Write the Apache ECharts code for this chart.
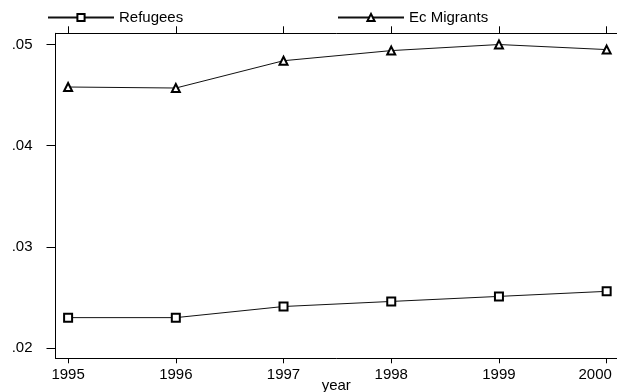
<!DOCTYPE html>
<html>
<head>
<meta charset="utf-8">
<script src="https://cdn.jsdelivr.net/npm/echarts@6/dist/echarts.min.js"></script>
<style>
  html, body { margin: 0; padding: 0; background: #fff; }
  #chart { width: 617px; height: 392px; }
</style>
</head>
<body>
<div id="chart"></div>
<script>
// Share of population by group, 1995–2000
const years = [1995, 1996, 1997, 1998, 1999, 2000];
const refugees = [0.0230, 0.0230, 0.0241, 0.0246, 0.0251, 0.0256];
const ecMigrants = [0.0458, 0.0457, 0.0484, 0.0494, 0.0500, 0.0495];
const yTicks = [0.02, 0.03, 0.04, 0.05];
const seriesNames = ['Refugees', 'Ec Migrants'];

const FONT = '"Liberation Sans", Arial, Helvetica, sans-serif';
const INK = '#000';

const xRange = { min: 1994.883, max: 2000.096 };
const yRange = { min: 0.01898, max: 0.05111 };
const lastYear = years[years.length - 1];

const pairs = arr => years.map((y, i) => [y, arr[i]]);

const chart = echarts.init(document.getElementById('chart'), null, { renderer: 'canvas' });

const legendBase = {
  orient: 'horizontal',
  top: 10,
  itemWidth: 66,
  itemHeight: 9,
  itemGap: 5,
  selectedMode: false,
  textStyle: { color: INK, fontFamily: FONT, fontSize: 15, padding: [0, 0, 0, 0] },
  padding: 0
};

chart.setOption({
  animation: false,
  backgroundColor: '#fff',
  grid: {
    left: 55.5, right: 0, top: 33.3, bottom: 33.7,
    containLabel: false,
    outerBoundsMode: 'none'
  },
  legend: [
    Object.assign({}, legendBase, { left: 47, data: [seriesNames[0]] }),
    Object.assign({}, legendBase, { left: 337, data: [seriesNames[1]] })
  ],
  xAxis: [
    {
      type: 'value',
      position: 'bottom',
      min: xRange.min,
      max: xRange.max,
      name: 'year',
      nameLocation: 'middle',
      nameGap: 20,
      nameMoveOverlap: false,
      nameTextStyle: { color: INK, fontFamily: FONT, fontSize: 15, verticalAlign: 'top' },
      axisLine: { show: true, lineStyle: { color: INK, width: 1 } },
      axisTick: { show: true, length: 5, customValues: years, lineStyle: { color: INK } },
      axisLabel: {
        show: true,
        customValues: years,
        margin: 9,
        color: INK,
        fontFamily: FONT,
        fontSize: 15,
        // the last year label is nudged left so it stays inside the canvas
        formatter: v => {
          const y = Math.round(v);
          return y === lastYear ? '{edge|' + y + '}' : String(y);
        },
        rich: {
          edge: { color: INK, fontFamily: FONT, fontSize: 15, padding: [0, 23, 0, 0] }
        }
      },
      splitLine: { show: false }
    },
    {
      type: 'value',
      position: 'top',
      min: xRange.min,
      max: xRange.max,
      axisLine: { show: true, lineStyle: { color: INK, width: 1 } },
      axisTick: { show: true, length: 7, customValues: years, lineStyle: { color: INK } },
      axisLabel: { show: false },
      splitLine: { show: false }
    }
  ],
  yAxis: {
    type: 'value',
    min: yRange.min,
    max: yRange.max,
    axisLine: { show: true, lineStyle: { color: INK, width: 1 } },
    axisTick: { show: true, length: 9, customValues: yTicks, lineStyle: { color: INK } },
    axisLabel: {
      show: true,
      customValues: yTicks,
      margin: 23,
      color: INK,
      fontFamily: FONT,
      fontSize: 15,
      formatter: v => v.toFixed(2).replace(/^0/, '')
    },
    splitLine: { show: false }
  },
  series: [
    {
      name: seriesNames[0],
      type: 'line',
      xAxisIndex: 0,
      data: pairs(refugees),
      symbol: 'emptyRect',
      symbolSize: 8,
      itemStyle: { color: INK, borderWidth: 1 },
      lineStyle: { color: '#111', width: 1 }
    },
    {
      name: seriesNames[1],
      type: 'line',
      xAxisIndex: 0,
      data: pairs(ecMigrants),
      symbol: 'emptyTriangle',
      symbolSize: 8,
      itemStyle: { color: INK, borderWidth: 1 },
      lineStyle: { color: '#111', width: 1 }
    }
  ]
});
</script>
</body>
</html>
